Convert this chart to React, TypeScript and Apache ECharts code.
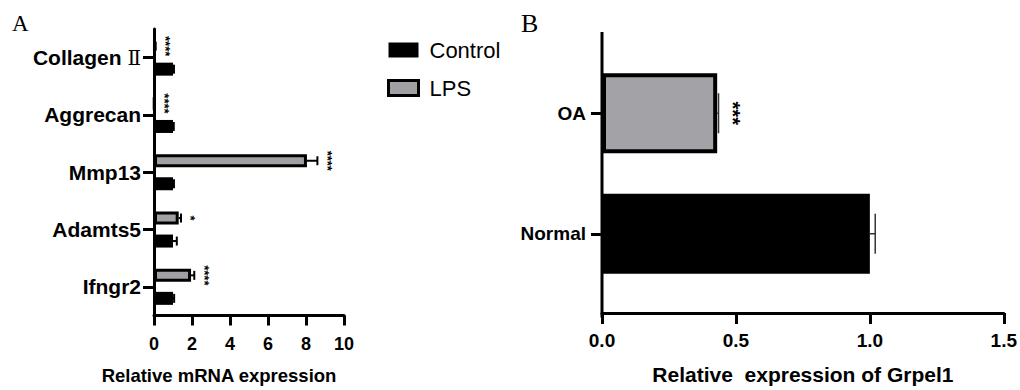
import React, { useEffect, useRef } from "react";
import * as echarts from "echarts";

// ---- Panel A data ----
const genesA = ["Collagen Ⅱ", "Aggrecan", "Mmp13", "Adamts5", "Ifngr2"];
const controlA = [1.0, 1.0, 1.0, 1.0, 1.0];
const controlErrA = [0.05, 0.04, 0.05, 0.2, 0.06];
const lpsA = [0.05, 0.02, 8.05, 1.3, 1.95];
const lpsErrA = [0.04, 0.01, 0.55, 0.12, 0.17];
const sigA = ["****", "****", "****", "*", "****"];
const ticksA = [0, 10, 2];

// ---- Panel B data ----
const groupsB = ["Normal", "OA"];
const valuesB = [1.0, 0.43];
const errB = [0.02, 0.005];
const sigB = ["", "***"];
const ticksB = [0, 1.5, 0.5];

const FONT = "'Liberation Sans', Arial, 'Noto Sans CJK SC', sans-serif";
const SERIF = "'Liberation Serif', 'Times New Roman', serif";

function makeErrRender(
  errs: number[],
  sigs: string[],
  offsetPx: number,
  capHalf: number,
  lw: number,
  color: string,
  sigGap: number,
  sigSize: number
) {
  return (params: any, api: any) => {
    const i = params.dataIndex;
    const v = api.value(0);
    const ci = api.value(1);
    const e = errs[i];
    const base = api.coord([v, ci]);
    const end = api.coord([v + e, ci]);
    const y = base[1] + offsetPx;
    const children: any[] = [];
    if (e > 0) {
      children.push({
        type: "line",
        shape: { x1: base[0], y1: y, x2: end[0], y2: y },
        style: { stroke: color, lineWidth: lw },
      });
      children.push({
        type: "line",
        shape: { x1: end[0], y1: y - capHalf, x2: end[0], y2: y + capHalf },
        style: { stroke: color, lineWidth: lw },
      });
    }
    const s = sigs[i];
    if (s) {
      children.push({
        type: "text",
        x: end[0] + sigGap,
        y: y,
        rotation: -Math.PI / 2,
        style: {
          text: s,
          fontSize: sigSize,
          fontWeight: "bold",
          fontFamily: FONT,
          fill: "#000",
          align: "center",
          verticalAlign: "middle",
        },
      });
    }
    return { type: "group", children };
  };
}

export default function App() {
  const ref = useRef<HTMLDivElement>(null);

  useEffect(() => {
    if (!ref.current) return;
    const chart = echarts.init(ref.current, undefined, { renderer: "svg" });

    const axisLineStyle = { lineStyle: { color: "#000", width: 3 } };

    const option: any = {
      animation: false,
      backgroundColor: "#fff",
      color: ["#000"],
      textStyle: { fontFamily: FONT, color: "#000" },
      legend: {
        orient: "vertical",
        left: 382,
        top: 34,
        itemWidth: 30,
        itemHeight: 15,
        itemGap: 16,
        icon: "rect",
        textStyle: { fontSize: 22, fontFamily: FONT, color: "#000", padding: [0, 0, 0, 6] },
        data: [
          { name: "Control", itemStyle: { color: "#000" } },
          { name: "LPS", itemStyle: { color: "#a0a0a4", borderColor: "#000", borderWidth: 3 } },
        ],
      },
      grid: [
        { left: 154, top: 29, width: 190, height: 288 },
        { left: 602, top: 53, width: 402, height: 244 },
      ],
      xAxis: [
        {
          gridIndex: 0,
          type: "value",
          min: ticksA[0],
          max: ticksA[1],
          interval: ticksA[2],
          axisLine: { show: true, ...axisLineStyle },
          axisTick: { show: true, length: 10, lineStyle: { color: "#000", width: 3 } },
          splitLine: { show: false },
          axisLabel: { fontSize: 18, fontWeight: "bold", color: "#000", margin: 20, fontFamily: FONT },
          name: "Relative mRNA expression",
          nameLocation: "middle",
          nameGap: 51,
          nameTextStyle: { fontSize: 18.5, fontWeight: "bold", color: "#000", fontFamily: FONT, padding: [0, 60, 0, 0] },
        },
        {
          gridIndex: 1,
          type: "value",
          min: ticksB[0],
          max: ticksB[1],
          interval: ticksB[2],
          offset: 19,
          axisLine: { show: true, ...axisLineStyle },
          axisTick: { show: true, length: 11, lineStyle: { color: "#000", width: 3 } },
          splitLine: { show: false },
          axisLabel: {
            fontSize: 19,
            fontWeight: "bold",
            color: "#000",
            margin: 18,
            fontFamily: FONT,
            formatter: (v: number) => v.toFixed(1),
          },
          name: "Relative  expression of Grpel1",
          nameLocation: "middle",
          nameGap: 51,
          nameTextStyle: { fontSize: 21, fontWeight: "bold", color: "#000", fontFamily: FONT },
        },
      ],
      yAxis: [
        {
          gridIndex: 0,
          type: "category",
          inverse: true,
          data: genesA,
          axisLine: { show: true, ...axisLineStyle },
          axisTick: { show: true, length: 11, alignWithLabel: true, lineStyle: { color: "#000", width: 3 } },
          axisLabel: {
            fontSize: 21,
            fontWeight: "bold",
            color: "#000",
            margin: 13,
            fontFamily: FONT,
            formatter: (v: string) => {
              const m = v.match(/^(.*) (Ⅱ)$/);
              return m ? `${m[1]} {r|${m[2]}}` : v;
            },
            rich: {
              r: { fontSize: 20, fontFamily: "'DejaVu Serif', serif", fontWeight: "normal", color: "#000" },
            },
          },
        },
        {
          gridIndex: 1,
          type: "category",
          data: groupsB,
          axisLine: { show: false },
          axisTick: { show: true, length: 11, alignWithLabel: true, lineStyle: { color: "#000", width: 3 } },
          axisLabel: { fontSize: 19, fontWeight: "bold", color: "#000", margin: 16, fontFamily: FONT },
        },
      ],
      series: [
        {
          name: "LPS",
          type: "bar",
          xAxisIndex: 0,
          yAxisIndex: 0,
          barWidth: 13,
          barGap: "77%",
          itemStyle: { color: "#a0a0a4", borderColor: "#000", borderWidth: 3 },
          data: lpsA,
        },
        {
          name: "Control",
          type: "bar",
          xAxisIndex: 0,
          yAxisIndex: 0,
          barWidth: 13,
          barGap: "77%",
          itemStyle: { color: "#000" },
          data: controlA,
        },
        {
          name: "LPS err",
          type: "custom",
          xAxisIndex: 0,
          yAxisIndex: 0,
          encode: { x: 0, y: 1 },
          itemStyle: { color: "#000" },
          renderItem: makeErrRender(lpsErrA, sigA, -11.5, 4.5, 2, "#000", 10, 13),
          data: lpsA.map((v, i) => [v, i]),
          z: 5,
        },
        {
          name: "Control err",
          type: "custom",
          xAxisIndex: 0,
          yAxisIndex: 0,
          encode: { x: 0, y: 1 },
          itemStyle: { color: "#000" },
          renderItem: makeErrRender(controlErrA, controlA.map(() => ""), 11.5, 4.5, 2, "#000", 10, 12),
          data: controlA.map((v, i) => [v, i]),
          z: 5,
        },
        {
          name: "Grpel1",
          type: "bar",
          xAxisIndex: 1,
          yAxisIndex: 1,
          barWidth: 80,
          data: valuesB.map((v, i) => ({
            value: v,
            itemStyle:
              i === 0
                ? { color: "#000" }
                : { color: "#a3a3a7", borderColor: "#000", borderWidth: 4 },
          })),
        },
        {
          name: "Grpel1 err",
          type: "custom",
          xAxisIndex: 1,
          yAxisIndex: 1,
          encode: { x: 0, y: 1 },
          itemStyle: { color: "#000" },
          renderItem: makeErrRender(errB, sigB, 0, 20, 1.5, "#333", 14, 20),
          data: valuesB.map((v, i) => [v, i]),
          z: 5,
        },
      ],
      graphic: [
        {
          type: "text",
          left: 12,
          top: 12,
          style: { text: "A", fontSize: 23, fontFamily: SERIF, fill: "#000" },
        },
        {
          type: "text",
          left: 521,
          top: 10,
          style: { text: "B", fontSize: 26, fontFamily: SERIF, fill: "#000" },
        },
        {
          type: "line",
          shape: { x1: 602, y1: 32, x2: 602, y2: 317.5 },
          style: { stroke: "#000", lineWidth: 3 },
        },
      ],
    };

    chart.setOption(option);
    return () => chart.dispose();
  }, []);

  return <div ref={ref} style={{ width: 1020, height: 390, position: "absolute", left: 0, top: 0 }} />;
}
